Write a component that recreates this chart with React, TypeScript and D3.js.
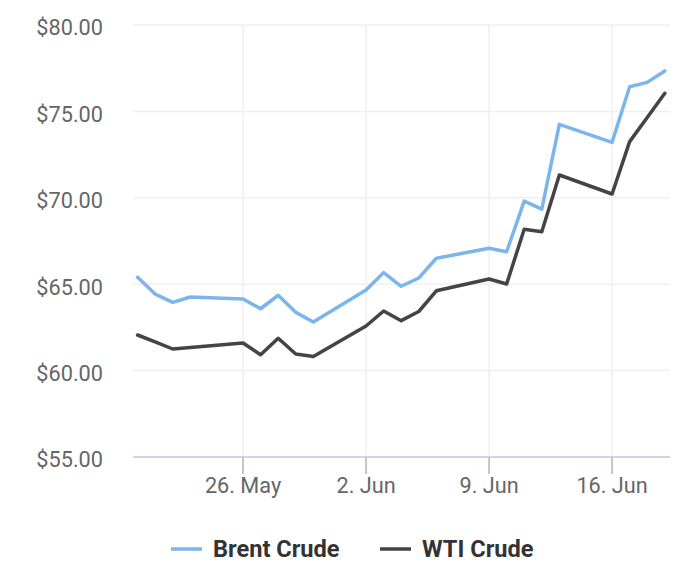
import React from 'react';
import * as d3 from 'd3';

// trading days
const dates = [
  '2025-05-20', '2025-05-21', '2025-05-22', '2025-05-23', '2025-05-26',
  '2025-05-27', '2025-05-28', '2025-05-29', '2025-05-30', '2025-06-02',
  '2025-06-03', '2025-06-04', '2025-06-05', '2025-06-06', '2025-06-09',
  '2025-06-10', '2025-06-11', '2025-06-12', '2025-06-13', '2025-06-16',
  '2025-06-17', '2025-06-18', '2025-06-19',
];
const brent = [
  65.4, 64.43, 63.95, 64.26, 64.14, 63.58, 64.36, 63.37, 62.81, 64.66,
  65.67, 64.88, 65.36, 66.5, 67.08, 66.88, 69.81, 69.35, 74.25, 73.21,
  76.43, 76.68, 77.34,
];
const wti = [
  62.06, 61.66, 61.25, 61.34, 61.6, 60.92, 61.87, 60.96, 60.82, 62.58,
  63.45, 62.89, 63.42, 64.62, 65.3, 65.01, 68.18, 68.04, 71.32, 70.22,
  73.25, 74.65, 76.05,
];
const seriesNames = ['Brent Crude', 'WTI Crude'];
const seriesColors = ['#7cb5ec', '#434348'];
const yTicks = [55, 60, 65, 70, 75, 80];
const xTicks = ['2025-05-26', '2025-06-02', '2025-06-09', '2025-06-16'];

const W = 700, H = 573;
const plotL = 133, plotR = 670, plotT = 25, plotB = 457;
const font = 'Roboto, "Noto Sans", sans-serif';

const App: React.FC = () => {
  const parse = d3.utcParse('%Y-%m-%d');
  const days = dates.map(d => parse(d) as Date);

  const x = d3.scaleUtc()
    .domain([days[0], days[days.length - 1]])
    .range([137.6, 664.8]);
  const y = d3.scaleLinear().domain([55, 80]).range([plotB, plotT]);

  const line = d3.line<number>()
    .x((_, i) => x(days[i]))
    .y(v => y(v));

  const fmtDate = d3.utcFormat('%-d. %b');
  const fmtY = (v: number) => '$' + d3.format('.2f')(v);

  const legendItems = [
    { lx: 171, tx: 213 },
    { lx: 380, tx: 422 },
  ];

  return (
    <svg width={W} height={H} style={{ position: 'absolute', left: 0, top: 0, background: '#fff' }}
      fontFamily={font}>
      {/* horizontal grid */}
      {yTicks.map(t => (
        <line key={'gy' + t} x1={plotL} x2={plotR} y1={y(t)} y2={y(t)}
          stroke="#f0f0f0" strokeWidth={1.5} />
      ))}
      {/* vertical grid */}
      {xTicks.map(t => {
        const px = x(parse(t) as Date);
        return <line key={'gx' + t} x1={px} x2={px} y1={plotT} y2={plotB}
          stroke="#f0f0f0" strokeWidth={1.5} />;
      })}
      {/* x axis */}
      <line x1={plotL} x2={plotR} y1={plotB} y2={plotB} stroke="#ccd6eb" strokeWidth={1.8} />
      {xTicks.map(t => {
        const px = x(parse(t) as Date);
        return (
          <g key={'xt' + t}>
            <line x1={px} x2={px} y1={plotB} y2={plotB + 17} stroke="#c0c0c0" strokeWidth={1.8} />
            <text x={px} y={493} textAnchor="middle" fontSize={21.7} fill="#666">
              {fmtDate(parse(t) as Date)}
            </text>
          </g>
        );
      })}
      {/* y labels */}
      {yTicks.map(t => (
        <text key={'yl' + t} x={103} y={y(t) + 10.3} textAnchor="end" fontSize={21.7} fill="#666">
          {fmtY(t)}
        </text>
      ))}
      {/* series */}
      {[brent, wti].map((s, i) => (
        <path key={'s' + i} d={line(s) || ''} fill="none" stroke={seriesColors[i]}
          strokeWidth={3.5} strokeLinejoin="round" strokeLinecap="round" />
      ))}
      {/* legend */}
      {legendItems.map((it, i) => (
        <g key={'lg' + i}>
          <line x1={it.lx} x2={it.lx + 31} y1={549} y2={549} stroke={seriesColors[i]} strokeWidth={3.5} />
          <text x={it.tx} y={557} fontSize={23.6} fontWeight="bold" fill="#333">{seriesNames[i]}</text>
        </g>
      ))}
    </svg>
  );
};

export default App;
